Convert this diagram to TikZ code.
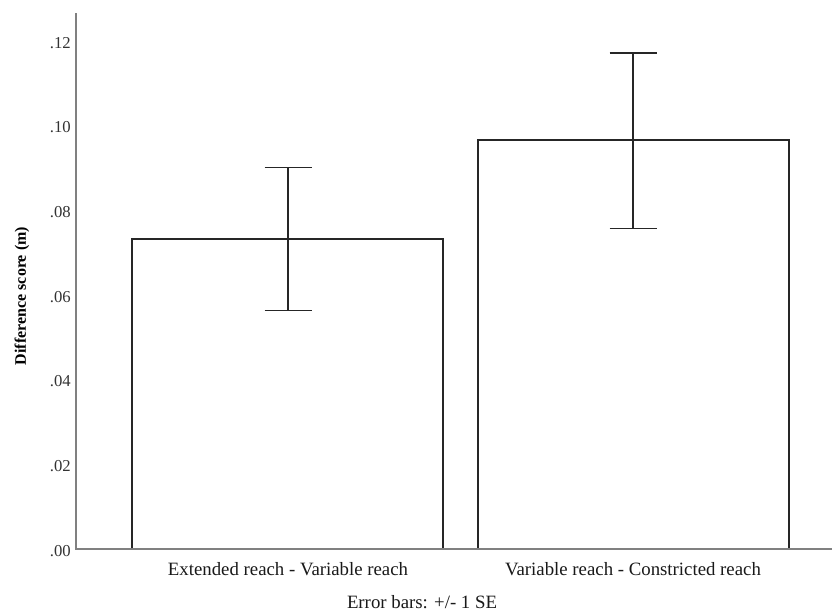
\documentclass[tikz,border=0pt]{standalone}
\usepackage{fontspec}
\setmainfont{Liberation Serif}
\begin{document}
\begin{tikzpicture}[x=0.75pt,y=-0.75pt,
  axisline/.style={draw=black!50,line width=0.9pt},
  barbox/.style={draw=black!85,line width=1.1pt,fill=white},
  errbar/.style={draw=black!85,line width=1.4pt},
  ticklbl/.style={anchor=east,inner sep=0pt,font=\fontsize{12.5}{14}\selectfont,text=black!80},
  catlbl/.style={anchor=center,inner sep=0pt,font=\fontsize{14.1}{16}\selectfont,text=black!90}]
\useasboundingbox (0,0) rectangle (832,612);
\fill[white] (0,0) rectangle (832,612);
% axes
\coordinate (o) at (76,549);
\coordinate (ytop) at (76,13);
\coordinate (xend) at (832,549);
% bars
\draw[barbox] (132,549) rectangle (443,239);
\draw[barbox] (478,549) rectangle (789,140);
\draw[axisline] (ytop) -- (o) -- (xend);
% error bars
\coordinate (e1t) at (288,167.5);
\coordinate (e1b) at (288,310.5);
\coordinate (e2t) at (633,53);
\coordinate (e2b) at (633,228.5);
\draw[errbar] (e1t) -- (e1b);
\draw[errbar] ([xshift=-23.5*0.75pt]e1t) -- ([xshift=23.5*0.75pt]e1t);
\draw[errbar] ([xshift=-23.5*0.75pt]e1b) -- ([xshift=23.5*0.75pt]e1b);
\draw[errbar] (e2t) -- (e2b);
\draw[errbar] ([xshift=-23.5*0.75pt]e2t) -- ([xshift=23.5*0.75pt]e2t);
\draw[errbar] ([xshift=-23.5*0.75pt]e2b) -- ([xshift=23.5*0.75pt]e2b);
% tick labels
\node[ticklbl] (t0) at (71,551) {.00};
\node[ticklbl] (t2) at (71,466) {.02};
\node[ticklbl] (t4) at (71,381.5) {.04};
\node[ticklbl] (t6) at (71,297) {.06};
\node[ticklbl] (t8) at (71,212.5) {.08};
\node[ticklbl] (t10) at (71,127.5) {.10};
\node[ticklbl] (t12) at (71,43) {.12};
% category labels
\node[catlbl] (c1) at (288,569) {Extended reach - Variable reach};
\node[catlbl] (c2) at (633,569) {Variable reach - Constricted reach};
\node[catlbl] (eb) at (422,602) {Error bars: +/- 1 SE};
% y label
\node[rotate=90,inner sep=0pt,font=\fontsize{12}{14}\selectfont\bfseries] (yl) at (22,296) {Difference score (m)};
\end{tikzpicture}
\end{document}
